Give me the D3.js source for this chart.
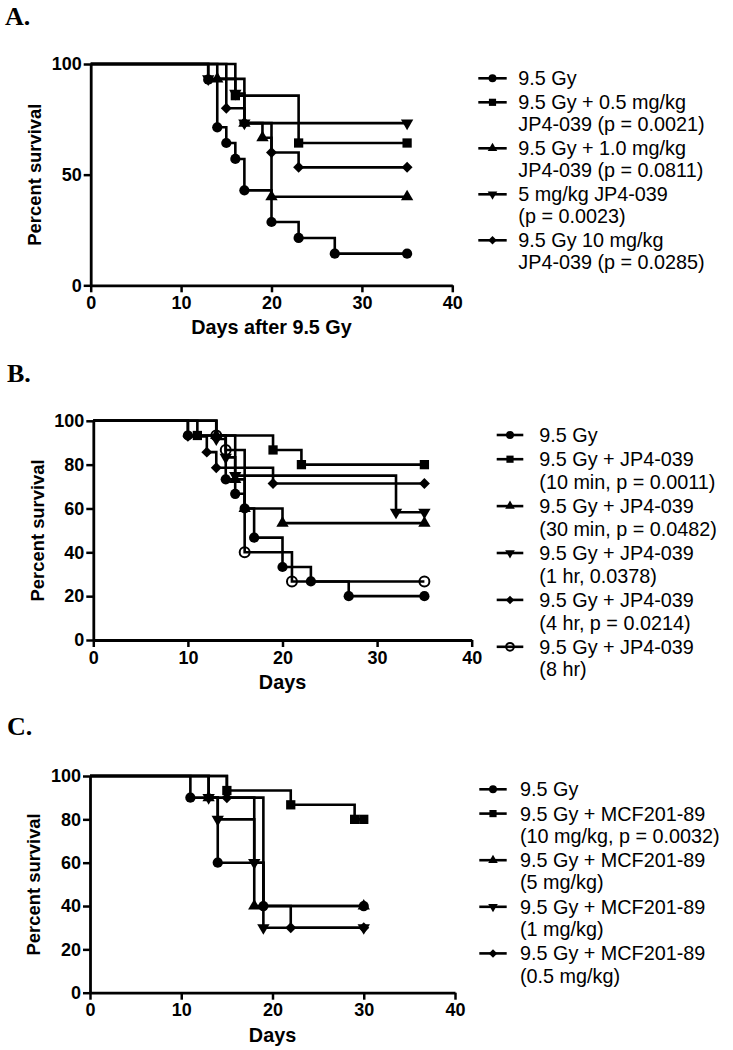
<!DOCTYPE html>
<html>
<head>
<meta charset="utf-8">
<script src="https://cdn.jsdelivr.net/npm/d3@7"></script>
<style>
  body { margin: 0; background: #fff; }
  svg { display: block; }
</style>
</head>
<body>
<svg id="chart" width="733" height="1050"></svg>
<script>
// ---- data: [day, percent survival] step points, first point is day 0 ----
// Panel A
const aGy = [[0, 100], [13, 92.9], [14, 71.4], [15, 64.3], [16, 57.1], [17, 42.9], [20, 28.6], [23, 21.4], [27, 14.3], [35, 14.3]];
const aHalfMg = [[0, 100], [16, 85.7], [23, 64.3], [35, 64.3]];
const aOneMg = [[0, 100], [14, 93.3], [17, 73.3], [19, 66.7], [20, 40], [35, 40]];
const aFiveMg = [[0, 100], [13, 93.3], [16, 86.7], [17, 73.3], [35, 73.3]];
const aTenMg = [[0, 100], [15, 80], [17, 73.3], [20, 60], [23, 53.3], [35, 53.3]];
const aLabels = [
    ['9.5 Gy'],
    ['9.5 Gy + 0.5 mg/kg', 'JP4-039 (p = 0.0021)'],
    ['9.5 Gy + 1.0 mg/kg', 'JP4-039 (p = 0.0811)'],
    ['5 mg/kg JP4-039', '(p = 0.0023)'],
    ['9.5 Gy 10 mg/kg', 'JP4-039 (p = 0.0285)'],
];

// Panel B
const bGy = [[0, 100], [10, 93.3], [14, 73.3], [15, 66.7], [16, 60], [17, 46.7], [20, 33.3], [23, 26.7], [27, 20], [35, 20]];
const b10min = [[0, 100], [11, 93.3], [19, 86.7], [22, 80], [35, 80]];
const b30min = [[0, 100], [13, 93.3], [15, 73.3], [16, 60], [20, 53.3], [35, 53.3]];
const b1hr = [[0, 100], [13, 91.7], [14, 83.3], [15, 75], [32, 58.3], [35, 58.3]];
const b4hr = [[0, 100], [10, 92.9], [12, 85.7], [13, 78.6], [19, 71.4], [35, 71.4]];
const b8hr = [[0, 100], [13, 93.3], [14, 86.7], [16, 40], [21, 26.7], [35, 26.7]];
const bLabels = [
    ['9.5 Gy'],
    ['9.5 Gy + JP4-039', '(10 min, p = 0.0011)'],
    ['9.5 Gy + JP4-039', '(30 min, p = 0.0482)'],
    ['9.5 Gy + JP4-039', '(1 hr, 0.0378)'],
    ['9.5 Gy + JP4-039', '(4 hr, p = 0.0214)'],
    ['9.5 Gy + JP4-039', '(8 hr)'],
];

// Panel C
const cGy = [[0, 100], [11, 90], [14, 60], [19, 40], [30, 40]];
const c10mg = [[0, 100], [15, 93.3], [22, 86.7], [29, 80], [30, 80]];
const c5mg = [[0, 100], [13, 90], [18, 40], [30, 40]];
const c1mg = [[0, 100], [13, 90], [14, 80], [18, 60], [19, 30], [30, 30]];
const cHalfMg = [[0, 100], [15, 90], [19, 40], [22, 30], [30, 30]];
const cLabels = [
    ['9.5 Gy'],
    ['9.5 Gy + MCF201-89', '(10 mg/kg, p = 0.0032)'],
    ['9.5 Gy + MCF201-89', '(5 mg/kg)'],
    ['9.5 Gy + MCF201-89', '(1 mg/kg)'],
    ['9.5 Gy + MCF201-89', '(0.5 mg/kg)'],
];

const xTicks = [0, 10, 20, 30, 40];
const yTicksA = [0, 50, 100];
const yTicksBC = [0, 20, 40, 60, 80, 100];

const FONT = '"Liberation Sans", Arial, Helvetica, sans-serif';
const SERIF = '"Liberation Serif", "Times New Roman", serif';

const svg = d3.select('#chart');

/**
 * MARKERS
 * */
const symbolTypes = {
    circle: d3.symbolCircle,
    circleOpen: d3.symbolCircle,
    square: d3.symbolSquare,
    triangle: d3.symbolTriangle,
    triangleDown: d3.symbolTriangle,
    diamond: d3.symbolSquare,
};
const symbolArea = {circle: 82, circleOpen: 78, square: 86, triangle: 66, triangleDown: 66, diamond: 60};
const symbolRotate = {triangleDown: 180, diamond: 45};

const addMarker = (parent, type, x, y, scale = 1) => parent.append('path')
    .attr('d', d3.symbol().type(symbolTypes[type]).size(symbolArea[type] * scale)())
    .attr('transform', `translate(${x},${y}) rotate(${symbolRotate[type] || 0})`)
    .attr('fill', type === 'circleOpen' ? 'none' : '#000')
    .attr('stroke', '#000')
    .attr('stroke-width', type === 'circleOpen' ? 2 : 0);

/**
 * PANEL
 * */
const drawPanel = (p) => {
    const x = d3.scaleLinear().domain([0, 40]).range([p.x0, p.x1]);
    const y = d3.scaleLinear().domain([0, 100]).range([p.y0, p.y1]);
    const g = svg.append('g');

    // panel letter
    svg.append('text')
        .attr('x', p.letterX).attr('y', p.letterY)
        .attr('font-family', SERIF).attr('font-weight', 'bold').attr('font-size', 26)
        .text(p.letter);

    // axes
    const styleAxis = (sel) => {
        sel.attr('font-family', FONT).attr('font-size', 18).attr('font-weight', 'bold');
        sel.select('.domain').attr('stroke-width', 2.8);
        sel.selectAll('.tick line').attr('stroke-width', 2.5);
        sel.selectAll('.tick text').attr('fill', '#000');
    };
    g.append('g')
        .attr('transform', `translate(0,${p.y0})`)
        .call(d3.axisBottom(x).tickValues(xTicks).tickSize(7).tickSizeOuter(0).tickPadding(4))
        .call(styleAxis);
    g.append('g')
        .attr('transform', `translate(${p.x0},0)`)
        .call(d3.axisLeft(y).tickValues(p.yTicks).tickSize(7).tickSizeOuter(0).tickPadding(2))
        .call(styleAxis);

    // axis titles
    g.append('text')
        .attr('x', (p.x0 + p.x1) / 2).attr('y', p.y0 + 49)
        .attr('text-anchor', 'middle')
        .attr('font-family', FONT).attr('font-weight', 'bold').attr('font-size', 19.8)
        .text(p.xTitle);
    g.append('text')
        .attr('transform', `translate(${p.x0 - 56},${(p.y0 + p.y1) / 2}) rotate(-90)`)
        .attr('text-anchor', 'middle').attr('dy', '0.35em')
        .attr('font-family', FONT).attr('font-weight', 'bold').attr('font-size', 18.4)
        .text('Percent survival');

    // survival curves
    const line = d3.line()
        .x(d => x(d[0]))
        .y(d => y(d[1]))
        .curve(d3.curveStepAfter);
    p.series.forEach((s) => {
        g.append('path')
            .attr('d', line(s.data))
            .attr('fill', 'none')
            .attr('stroke', '#000')
            .attr('stroke-width', 2.6);
    });
    p.series.forEach((s) => {
        s.data.slice(1).forEach(d => addMarker(g, s.type, x(d[0]), y(d[1])));
    });

    // legend
    let lineIdx = 0;
    p.series.forEach((s, i) => {
        const ly = p.legend.y + lineIdx * p.legend.lh + i * p.legend.gap;
        g.append('line')
            .attr('x1', p.legend.lx0).attr('x2', p.legend.lx1)
            .attr('y1', ly).attr('y2', ly)
            .attr('stroke', '#000').attr('stroke-width', 2.6);
        addMarker(g, s.type, (p.legend.lx0 + p.legend.lx1) / 2, ly, 0.6);
        s.label.forEach((t, k) => {
            g.append('text')
                .attr('x', p.legend.tx).attr('y', ly + k * p.legend.lh)
                .attr('dy', '0.35em')
                .attr('font-family', FONT).attr('font-size', 19.8)
                .text(t);
        });
        lineIdx += s.label.length;
    });
};

drawPanel({
    letter: 'A.', letterX: 5, letterY: 25,
    x0: 90.7, x1: 452.3, y0: 285.3, y1: 64,
    yTicks: yTicksA, xTitle: 'Days after 9.5 Gy',
    series: [
        {data: aGy, type: 'circle', label: aLabels[0]},
        {data: aHalfMg, type: 'square', label: aLabels[1]},
        {data: aOneMg, type: 'triangle', label: aLabels[2]},
        {data: aFiveMg, type: 'triangleDown', label: aLabels[3]},
        {data: aTenMg, type: 'diamond', label: aLabels[4]},
    ],
    legend: {lx0: 478.3, lx1: 506.7, tx: 518.3, y: 78.3, lh: 22, gap: 2},
});

drawPanel({
    letter: 'B.', letterX: 7, letterY: 382,
    x0: 93.3, x1: 471.7, y0: 640, y1: 420.8,
    yTicks: yTicksBC, xTitle: 'Days',
    series: [
        {data: bGy, type: 'circle', label: bLabels[0]},
        {data: b10min, type: 'square', label: bLabels[1]},
        {data: b30min, type: 'triangle', label: bLabels[2]},
        {data: b1hr, type: 'triangleDown', label: bLabels[3]},
        {data: b4hr, type: 'diamond', label: bLabels[4]},
        {data: b8hr, type: 'circleOpen', label: bLabels[5]},
    ],
    legend: {lx0: 496.7, lx1: 523.3, tx: 539.3, y: 435, lh: 22.7, gap: 1.5},
});

drawPanel({
    letter: 'C.', letterX: 7, letterY: 735,
    x0: 90, x1: 455, y0: 992.7, y1: 776,
    yTicks: yTicksBC, xTitle: 'Days',
    series: [
        {data: cGy, type: 'circle', label: cLabels[0]},
        {data: c10mg, type: 'square', label: cLabels[1]},
        {data: c5mg, type: 'triangle', label: cLabels[2]},
        {data: c1mg, type: 'triangleDown', label: cLabels[3]},
        {data: cHalfMg, type: 'diamond', label: cLabels[4]},
    ],
    legend: {lx0: 479.3, lx1: 506.7, tx: 520, y: 789.3, lh: 22.3, gap: 2},
});
</script>
</body>
</html>
